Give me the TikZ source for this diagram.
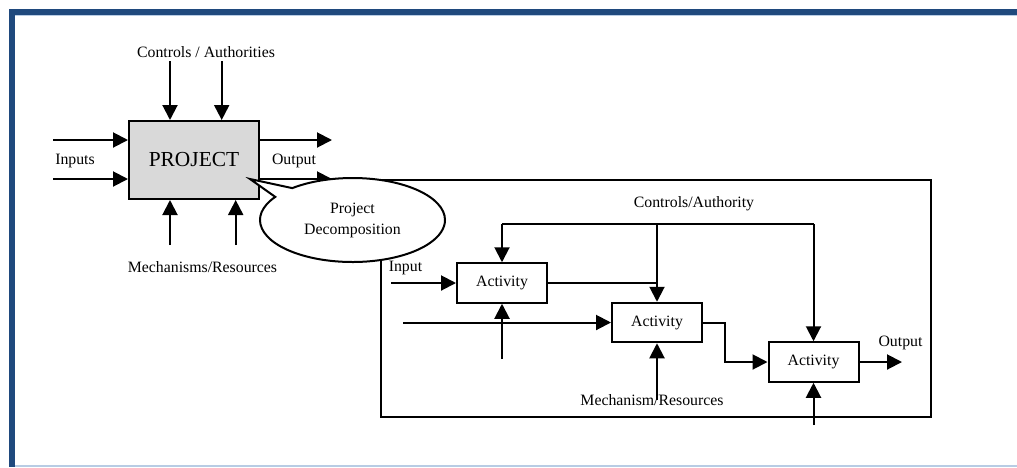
\documentclass[tikz,border=0pt]{standalone}
\usepackage{fontspec}
\setmainfont{Liberation Serif}
\usetikzlibrary{arrows.meta,shapes.callouts,shapes.geometric}
\definecolor{framedark}{HTML}{1F497D}
\definecolor{framelight}{HTML}{B8CCE4}
\definecolor{projgray}{HTML}{D9D9D9}
\tikzset{
  conn/.style={line width=2pt},
  arr/.style={line width=2pt,-{Triangle[length=15pt,width=15pt]}},
  projbox/.style={draw,line width=2pt,fill=projgray,minimum width=130pt,minimum height=78pt,inner sep=0pt,font=\fontsize{21.4}{25}\selectfont},
  actbox/.style={draw,line width=2pt,fill=white,minimum width=90pt,minimum height=39.5pt,inner sep=0pt},
  lbl/.style={inner sep=0pt},
  bigbox/.style={draw,line width=1.6pt,minimum width=550pt,minimum height=237pt,inner sep=0pt},
}
\begin{document}
\begin{tikzpicture}[x=1pt,y=-1pt,font=\fontsize{15.8}{21}\selectfont]
\useasboundingbox (0,0) rectangle (1017,467);
% frame
\fill[framedark] (9,9) rectangle (1017,14.5);
\fill[framedark] (9,9) rectangle (14.5,467);
\fill[framelight] (14.5,464.5) rectangle (1017,467);
\fill[framelight] (14.5,14.5) rectangle (1017,15.3);

% top-level project
\node[projbox] (P) at (194,160) {PROJECT};
\coordinate (c1) at (170,61);
\coordinate (c2) at (221.7,61);
\coordinate (in1) at (53,140);
\coordinate (in2) at (53,179);
\coordinate (o1) at (332,140);
\coordinate (o2) at (332,179);
\coordinate (m1) at (170,245);
\coordinate (m2) at (235.7,245);
\draw[arr] (c1) -- (c1 |- P.north);
\draw[arr] (c2) -- (c2 |- P.north);
\draw[arr] (in1) -- (in1 -| P.west);
\draw[arr] (in2) -- (in2 -| P.west);
\draw[arr] (o1 -| P.east) -- (o1);
\draw[arr] (o2 -| P.east) -- (o2);
\draw[arr] (m1) -- (m1 |- P.south);
\draw[arr] (m2) -- (m2 |- P.south);
\node[lbl] (lc) at (206,52) {Controls / Authorities};
\node[lbl] (li) at (75,161) {Inputs};
\node[lbl] (lo) at (294,161) {Output};
\node[lbl] (lm) at (202.5,267) {Mechanisms/Resources};

% decomposition
\node[bigbox] (D) at (656,298.5) {};
\node[ellipse callout,draw,fill=white,line width=2pt,minimum width=185pt,minimum height=84pt,inner sep=0pt,align=center,callout absolute pointer={(250,179)},callout pointer arc=16] (E) at (352.5,220) {Project\\Decomposition};

\node[actbox] (A1) at (502,283) {Activity};
\node[actbox] (A2) at (657,322.5) {Activity};
\node[actbox] (A3) at (813.5,362) {Activity};

\coordinate (ct) at (657,224);
\draw[conn] (A1.north |- ct) -- (A3.north |- ct);
\draw[arr] (A1.north |- ct) -- (A1.north);
\draw[arr] (A2.north |- ct) -- (A2.north);
\draw[arr] (A3.north |- ct) -- (A3.north);
\draw[conn] (A1.east) -- (A1.east -| A2.north);

\coordinate (i1) at (391,283);
\coordinate (i2) at (403,322.5);
\draw[arr] (i1) -- (A1.west);
\draw[arr] (i2) -- (A2.west);

\coordinate (mm1) at (502,359);
\coordinate (mm2) at (657,400);
\coordinate (mm3) at (813.5,425);
\draw[arr] (mm1) -- (A1.south);
\draw[arr] (mm2) -- (A2.south);
\draw[arr] (mm3) -- (A3.south);

\coordinate (bend) at (725,340);
\draw[arr] (A2.east) -| (bend) |- (A3.west);
\coordinate (out) at (902,362);
\draw[arr] (A3.east) -- (out);

\node[lbl] (lca) at (694,204) {Controls/Authority};
\node[lbl] (lin) at (405.5,268) {Input};
\node[lbl] (lout) at (900.5,343) {Output};
\node[lbl] (lmr) at (652,400) {Mechanism/Resources};
\end{tikzpicture}
\end{document}
